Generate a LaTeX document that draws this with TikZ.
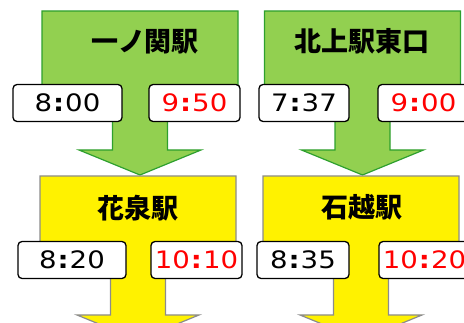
\documentclass[tikz,border=0pt]{standalone}
\usepackage{fontspec}
\newfontfamily\jpfont{Noto Sans CJK JP}
\newfontfamily\numfont{DejaVu Sans}[FakeStretch=1.15]
\usepackage{tikz}
\definecolor{leafgreen}{HTML}{92D050}
\definecolor{edgegreen}{HTML}{2EA02E}
\definecolor{edgegray}{HTML}{8C8C8C}
\newcommand{\tc}{\kern1pt{\bfseries:}\kern1pt}
\tikzset{
  callout/.pic={
    \path[pic actions] (-98,0) -- (98,0) -- (98,94) -- (27.5,94) -- (27.5,139)
      -- (61,139) -- (0,164) -- (-61,139) -- (-27.5,139) -- (-27.5,94)
      -- (-98,94) -- cycle;
  },
  greenarrow/.style={fill=leafgreen,draw=edgegreen,line width=1.2pt},
  yellowarrow/.style={fill=yellow,draw=edgegray,line width=1.2pt},
  station/.style={font={\jpfont\bfseries\fontsize{27}{27}\selectfont}},
  timebox/.style={rectangle,draw,fill=white,rounded corners=4pt,line width=1.3pt,
    minimum height=37pt,inner sep=0pt,font={\numfont\fontsize{24}{24}\selectfont}},
  late/.style={text=red}
}

\begin{document}
\begin{tikzpicture}[x=1pt,y=-1pt]
  \useasboundingbox (0,0) rectangle (464,323);
  \clip (0,0) rectangle (464,323);
  % arrows
  \pic[greenarrow] at (140,11) {callout};
  \pic[greenarrow] at (362.5,11) {callout};
  \pic[yellowarrow] at (138,176) {callout};
  \pic[yellowarrow] at (361,176) {callout};
  % station names
  \node[station] (ichinoseki) at (145,42) {一ノ関駅};
  \node[station] (kitakami) at (362,41) {北上駅東口};
  \node[station] (hanaizumi) at (138,208) {花泉駅};
  \node[station] (ishikoshi) at (362,207) {石越駅};
  % times
  \node[timebox,minimum width=109pt] (ichiDep) at (67.5,103) {8\tc00};
  \node[timebox,minimum width=91pt,late] (ichiArr) at (194.5,103) {9\tc50};
  \node[timebox,minimum width=90pt] (kitaDep) at (304,103) {7\tc37};
  \node[timebox,minimum width=91pt,late] (kitaArr) at (423.5,103) {9\tc00};
  \node[timebox,minimum width=108pt] (hanaDep) at (72,260) {8\tc20};
  \node[timebox,minimum width=91pt,late] (hanaArr) at (196.5,260) {10\tc10};
  \node[timebox,minimum width=92pt] (ishiDep) at (303,260) {8\tc35};
  \node[timebox,minimum width=91pt,late] (ishiArr) at (424.5,260) {10\tc20};
\end{tikzpicture}
\end{document}
